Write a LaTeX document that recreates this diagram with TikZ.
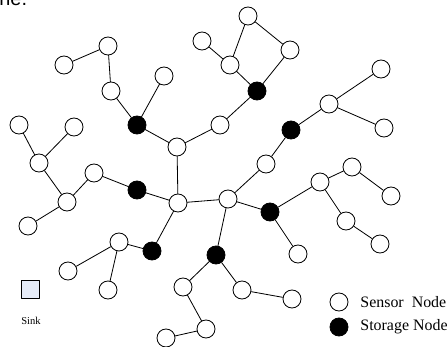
\documentclass[tikz,border=0pt]{standalone}
\usepackage{fontspec}
\setmainfont{Liberation Serif}
\newfontfamily\headfont{Liberation Sans}
\definecolor{sinkfill}{RGB}{230,236,248}
\begin{document}
\begin{tikzpicture}[x=0.03cm, y=-0.03cm, line join=round, line cap=round, line width=0.7pt,
	sensor/.style={circle, draw, fill=white, minimum size=0.54cm, inner sep=0pt},
	storage/.style={circle, draw, fill=black, minimum size=0.54cm, inner sep=0pt},
	sinkbox/.style={rectangle, draw, fill=sinkfill, minimum size=0.54cm, inner sep=0pt}]
			\useasboundingbox (0,0) rectangle (447,347);
			\node[anchor=base west, inner sep=0pt, font=\headfont\fontsize{17}{19}\selectfont] (head) at (-1,6) {ne.};
			% sensor nodes
			\foreach \name/\x/\y in {n1/108/46, n2/64/65, n3/111/91, n4/164/76, n5/177/147,
				n6/19/125, n7/74/127, n8/39/163, n9/94/173, n10/202/41, n11/220/125,
				n12/248/16, n13/290/50, n14/230/65, n15/381/69, n16/329/104, n17/384/128,
				n18/266/164, n19/352/167, n20/320/182, n21/67/202, n22/178/203, n23/28/226,
				n24/228/199, n25/119/242, n26/68/271, n27/108/290, n28/183/287, n29/206/329,
				n30/166/338, n31/391/196, n32/346/221, n33/380/244, n34/298/254, n35/242/290,
				n36/292/299}
				\node[sensor] (\name) at (\x,\y) {};
			% storage nodes
			\foreach \name/\x/\y in {s1/137/125, s2/257/91, s3/291/130, s4/137/190,
				s5/152/251, s6/216/255, s7/270/212}
				\node[storage] (\name) at (\x,\y) {};
			% links
			\foreach \a/\b in {n2/n1, n1/n3, n3/s1, n4/s1, s1/n5, n5/n11, n5/n22, n11/s2,
				s2/n14, s2/n13, n13/n12, n12/n14, n14/n10, n22/s4, s4/n9, n9/n21, n21/n8,
				n21/n23, n8/n6, n8/n7, n22/n24, n24/n18, n18/s3, s3/n16, n16/n15, n16/n17,
				n24/s7, s7/n20, n20/n19, n19/n31, n20/n32, n32/n33, s7/n34, n24/s6, s6/n35,
				n35/n36, s6/n28, n28/n29, n29/n30, n22/s5, s5/n25, n25/n26, n25/n27}
				\draw (\a)--(\b);
			% sink and legend
			\node[sinkbox] (sink) at (30,289) {};
			\node[font=\fontsize{9}{11}\selectfont] (sinklabel) at (31,321) {Sink};
			\node[sensor] (keysensor) at (339,302) {};
			\node[storage] (keystorage) at (339,327) {};
			\node[anchor=west, inner sep=0pt, font=\fontsize{13.6}{15}\selectfont] (sensortext) at (360,302) {Sensor\ \ Node};
			\node[anchor=west, inner sep=0pt, font=\fontsize{13.6}{15}\selectfont] (storagetext) at (360,327) {Storage Node};
			\end{tikzpicture}
\end{document}
